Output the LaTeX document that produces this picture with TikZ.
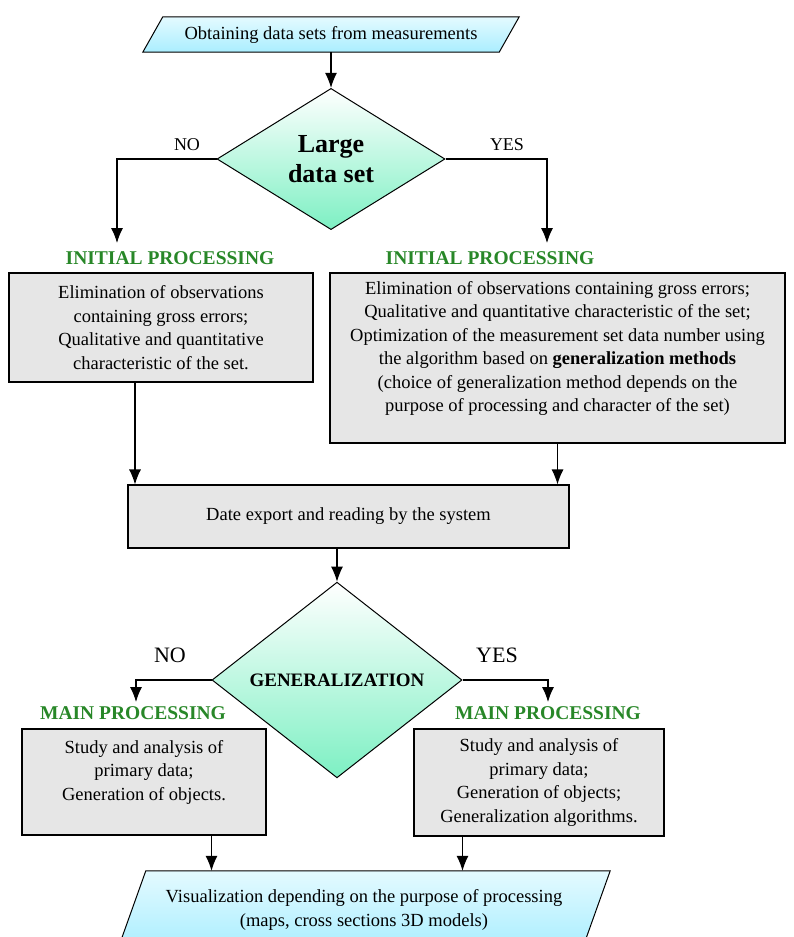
\documentclass[tikz,border=0pt]{standalone}
\usepackage{fontspec}
\setmainfont{Liberation Serif}
\usetikzlibrary{shapes.geometric,arrows.meta,calc,backgrounds}
\definecolor{boxgray}{RGB}{230,230,230}
\definecolor{titlegreen}{RGB}{40,135,40}
\definecolor{decgreen}{RGB}{125,240,195}
\definecolor{iotop}{RGB}{228,250,255}
\definecolor{iocyan}{RGB}{170,238,255}
\begin{document}
\begin{tikzpicture}[
   x=1pt,y=-1pt,
   font=\fontsize{18.5}{23.5}\selectfont,
   box/.style={draw,line width=1.1pt,fill=boxgray,align=center,inner sep=0pt},
   decision/.style={diamond,draw,line width=1pt,top color=white,bottom color=decgreen,inner sep=2pt,align=center},
   io/.style={inner sep=0pt,align=center},
   iofill/.style={draw,line width=1pt,top color=iotop,bottom color=iocyan},
   title/.style={text=titlegreen,font=\fontsize{19.5}{22}\selectfont\bfseries},
   answer/.style={font=\fontsize{18}{20}\selectfont},
   flow/.style={-{Latex[length=15pt,width=12pt]},line width=1.1pt}]
\clip (0,0) rectangle (794,937);
% input and first decision
\node[io,minimum width=356pt,minimum height=35pt] (obtain) at (331,34.5) {Obtaining data sets from measurements};
\node[decision,minimum width=228pt,minimum height=140pt,font=\fontsize{26}{30}\selectfont\bfseries] (large) at (331,159) {Large\\data set};
\node[answer] (no1) at (187,145) {NO};
\node[answer] (yes1) at (507,145) {YES};
\coordinate (noA) at (117,243);
\coordinate (yesA) at (547,243);
% initial processing
\node[title] (init1) at (170,258) {INITIAL PROCESSING};
\node[title] (init2) at (490,258) {INITIAL PROCESSING};
\node[box,minimum width=304pt,minimum height=109pt] (elim1) at (161,327.5) {Elimination of observations\\containing gross errors;\\Qualitative and quantitative\\characteristic of the set.};
\node[box,minimum width=455pt,minimum height=170pt] (elim2) at (557.5,358) {Elimination of observations containing gross errors;\\Qualitative and quantitative characteristic of the set;\\Optimization of the measurement set data number using\\the algorithm based on \textbf{generalization methods}\\(choice of generalization method depends on the\\purpose of processing and character of the set)\\[-8pt]\strut};
\node[box,minimum width=441pt,minimum height=63pt] (export) at (348.5,516.5) {Date export and reading by the system};
% second decision
\node[decision,minimum width=250pt,minimum height=170pt,font=\fontsize{19}{22}\selectfont\bfseries] (gen) at (337,680) {GENERALIZATION};
\node[answer,font=\fontsize{22}{24}\selectfont] (no2) at (170,655) {NO};
\node[answer,font=\fontsize{22}{24}\selectfont] (yes2) at (497,655) {YES};
\coordinate (noB) at (136,702);
\coordinate (yesB) at (548,702);
% main processing
\node[title] (main1) at (133,713) {MAIN PROCESSING};
\node[title] (main2) at (548,713) {MAIN PROCESSING};
\node[box,minimum width=244pt,minimum height=106pt] (study1) at (144,782) {Study and analysis of\\primary data;\\Generation of objects.\\~};
\node[box,minimum width=250pt,minimum height=107pt] (study2) at (539,782.5) {Study and analysis of\\primary data;\\Generation of objects;\\Generalization algorithms.};
\node[io,minimum width=464pt,minimum height=78pt] (visual) at (364,910) {Visualization depending on the purpose of processing\\(maps, cross sections 3D models)};
% slanted input/output shapes
\begin{scope}[on background layer]
\draw[iofill] ($(obtain.north west)+(10,0)$) -- ($(obtain.north east)+(10,0)$) -- ($(obtain.south east)+(-10,0)$) -- ($(obtain.south west)+(-10,0)$) -- cycle;
\draw[iofill] ($(visual.north west)+(14,0)$) -- ($(visual.north east)+(14,0)$) -- ($(visual.south east)+(-14,0)$) -- ($(visual.south west)+(-14,0)$) -- cycle;
\end{scope}
% connectors
\draw[flow] (obtain.south -| large.north) -- (large.north);
\draw[flow] (large.west) -| (noA);
\draw[flow] (large.east) -| (yesA);
\draw[flow] ([xshift=-26pt]elim1.south) -- ([xshift=-26pt]elim1.south |- export.north);
\draw[flow] (elim2.south) -- (elim2.south |- export.north);
\draw[flow] (export.south -| gen.north) -- (gen.north);
\draw[flow] (gen.west) -| (noB);
\draw[flow] (gen.east) -| (yesB);
\draw[flow] (study1.south -| gen.west) -- (visual.north -| gen.west);
\draw[flow] (study2.south -| gen.east) -- (visual.north -| gen.east);
\end{tikzpicture}
\end{document}
